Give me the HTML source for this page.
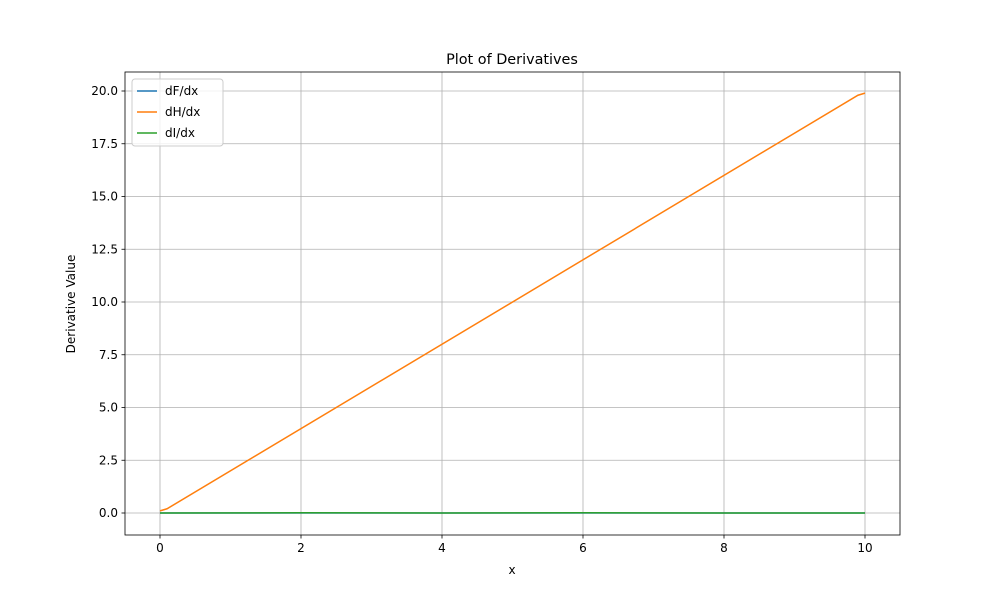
<!DOCTYPE html>
<html><head><meta charset="utf-8"><style>
body{margin:0;background:#fff;font-family:"Liberation Sans","DejaVu Sans",sans-serif}
text{font-family:"DejaVu Sans","Liberation Sans",sans-serif;font-size:12px;fill:#000}
</style></head><body>
<svg id="c" width="1000" height="600" xmlns="http://www.w3.org/2000/svg">
<rect width="1000" height="600" fill="#fff"/>
<g id="grid"></g><g id="series"></g><g id="axes"></g>
<text x="512" y="64" text-anchor="middle" style="font-size:14.4px">Plot of Derivatives</text>
<text x="512" y="574" text-anchor="middle">x</text>
<text transform="translate(75,304) rotate(-90)" text-anchor="middle">Derivative Value</text>
<g>
<rect x="132" y="79" width="91" height="67" rx="3" fill="#fff" fill-opacity="0.8" stroke="#ccc"/>
<line x1="137" y1="91" x2="157" y2="91" stroke="#1f77b4" stroke-width="1.5"/>
<text x="165" y="95">dF/dx</text>
<line x1="137" y1="112" x2="157" y2="112" stroke="#ff7f0e" stroke-width="1.5"/>
<text x="165" y="116">dH/dx</text>
<line x1="137" y1="133" x2="157" y2="133" stroke="#2ca02c" stroke-width="1.5"/>
<text x="165" y="137">dI/dx</text>
</g>
</svg>
<script>
const xTicks=[0,2,4,6,8,10];
const yTicks=[0,2.5,5,7.5,10,12.5,15,17.5,20];
const yTickLabels=["0.0","2.5","5.0","7.5","10.0","12.5","15.0","17.5","20.0"];
const dfX=[0,10];
const dfY=[0,0];
const dhX=[0,0.1,9.9,10];
const dhY=[0.1,0.2,19.8,19.9];
const diX=[0,2,4,6,8,10];
const diY=[0,0.01,0,0.01,0,0];
const L=125,R=900,T=72,B=535;
const sx=v=>160+v*70.5, sy=v=>513-v*21.1;
const NS="http://www.w3.org/2000/svg";
function mk(tag,attrs,parent){const e=document.createElementNS(NS,tag);for(const k in attrs)e.setAttribute(k,attrs[k]);parent.appendChild(e);return e;}
const grid=document.getElementById('grid'),axes=document.getElementById('axes'),ser=document.getElementById('series');
xTicks.forEach(t=>{const x=sx(t);
 const g=mk('line',{x1:x,x2:x,y1:T,y2:B,stroke:'#b0b0b0','stroke-width':0.8},grid);
 
 
 mk('line',{x1:x,x2:x,y1:B,y2:B+3.5,stroke:'#000','stroke-width':0.8},axes);
 const tx=mk('text',{x:x,y:B+17,'text-anchor':'middle'},axes);tx.textContent=t;
 
 
});
yTicks.forEach((t,i)=>{const y=sy(t);
 const g=mk('line',{x1:L,x2:R,y1:y,y2:y,stroke:'#b0b0b0','stroke-width':0.8},grid);
 
 
 mk('line',{x1:L-3.5,x2:L,y1:y,y2:y,stroke:'#000','stroke-width':0.8},axes);
 const tx=mk('text',{x:L-7,y:y+4,'text-anchor':'end'},axes);tx.textContent=yTickLabels[i];
 
 
});
const fr=mk('rect',{x:L,y:T,width:R-L,height:B-T,fill:'none',stroke:'#000','stroke-width':0.8},axes);


function line(xs,ys,color,name){
 const p=mk('polyline',{points:xs.map((x,i)=>sx(x)+','+sy(ys[i])).join(' '),fill:'none',stroke:color,'stroke-width':1.5},ser);
 
 
}
line(dfX,dfY,'#1f77b4','line-df-dx');
line(dhX,dhY,'#ff7f0e','line-dh-dx');
line(diX,diY,'#2ca02c','line-di-dx');
</script>
</body></html>
